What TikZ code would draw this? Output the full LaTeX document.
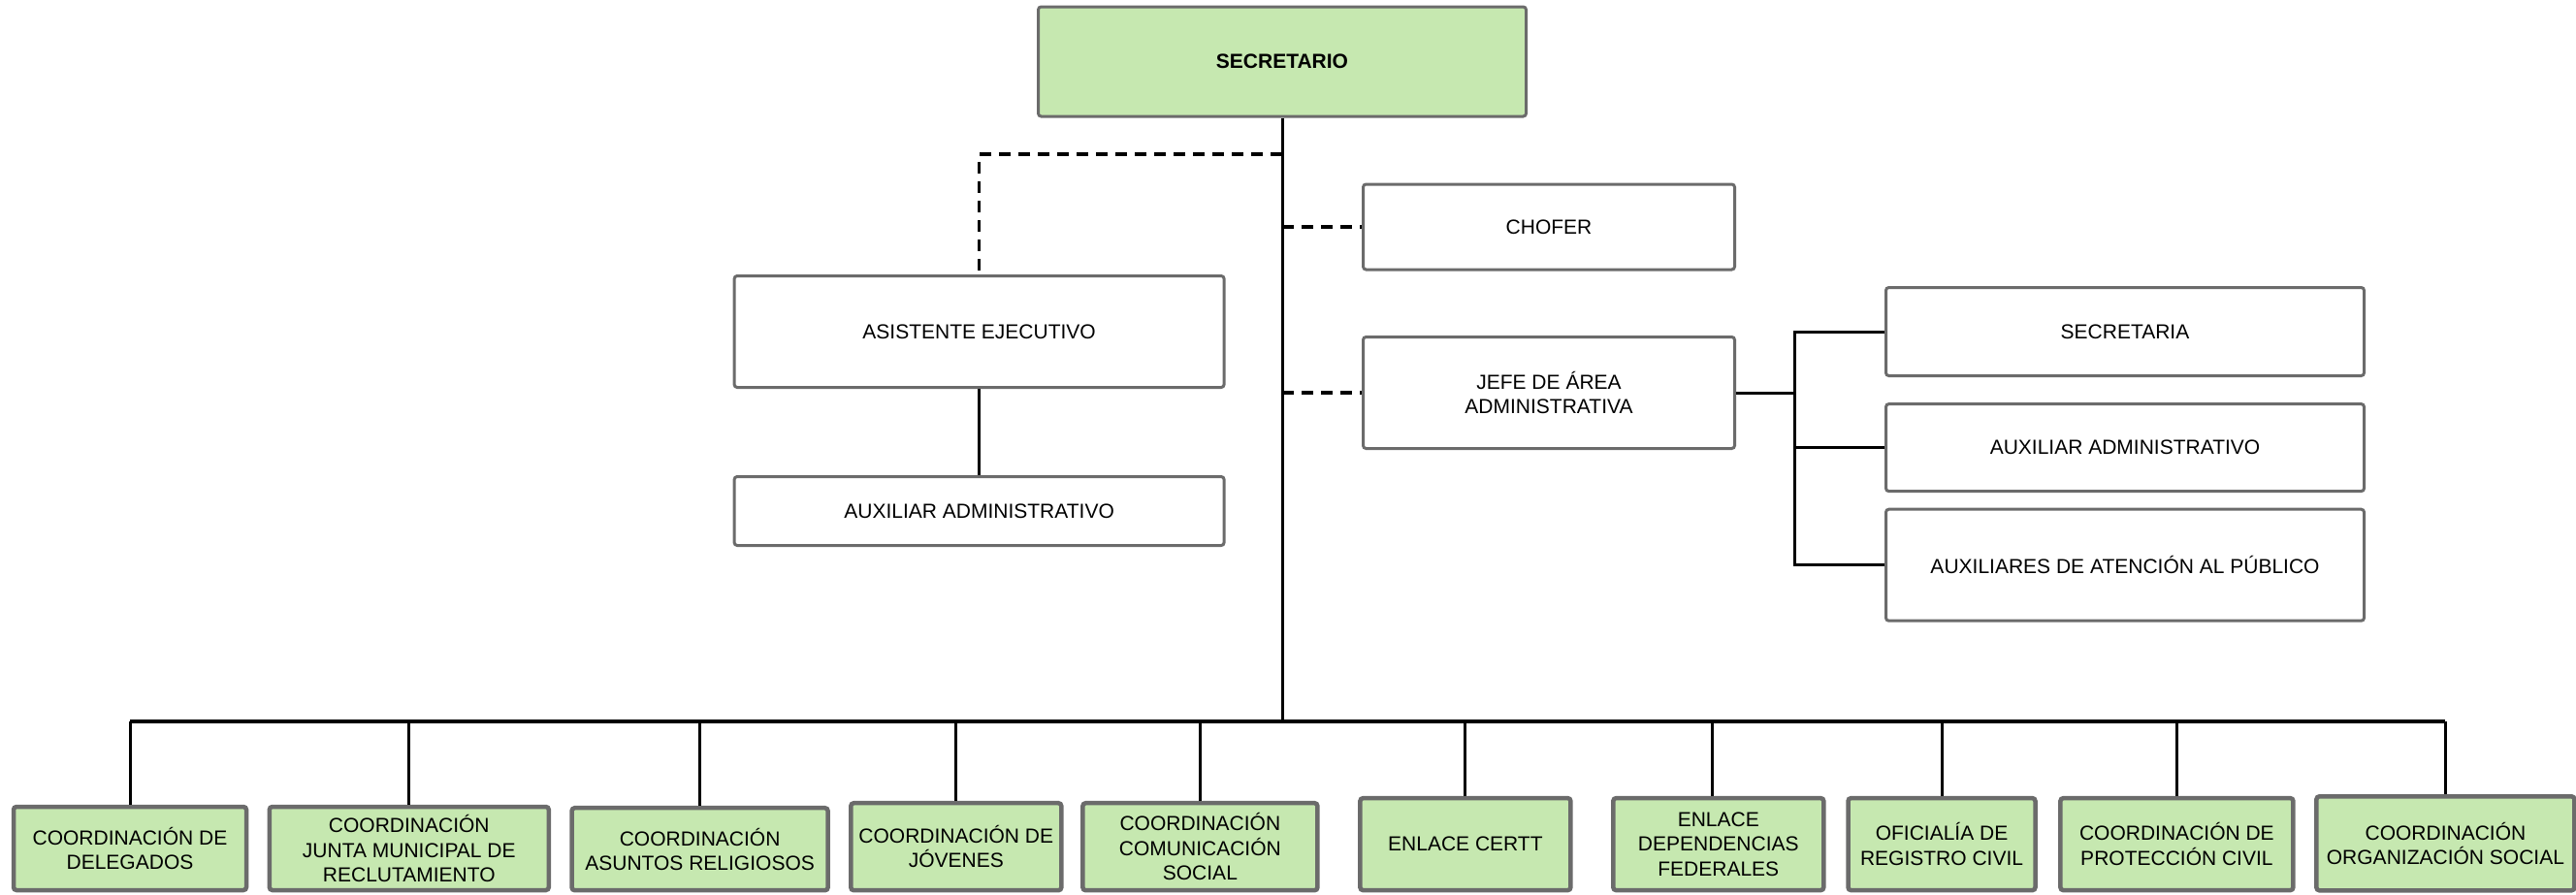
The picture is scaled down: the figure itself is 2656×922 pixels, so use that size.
\documentclass[tikz,border=0pt]{standalone}
\usepackage{fontspec}
\setmainfont{Liberation Sans}
\definecolor{boxgreen}{HTML}{C6E8B0}
\definecolor{boxgray}{HTML}{6B6B6B}
\tikzset{
  topbox/.style={draw=boxgray, line width=3pt, rounded corners=3pt, fill=white, inner sep=0pt, align=center, font=\fontsize{21}{25.4}\selectfont},
  greenbox/.style={topbox, fill=boxgreen},
  botbox/.style={draw=boxgray, line width=4.5pt, rounded corners=3pt, fill=boxgreen, inner sep=0pt, align=center, font=\fontsize{21}{25.4}\selectfont},
  conn/.style={draw=black, line width=3pt},
  busln/.style={draw=black, line width=4pt},
  dashln/.style={draw=black, line width=3.5pt, dash pattern=on 12pt off 8pt}
}
\begin{document}
\begin{tikzpicture}[x=1pt, y=-1pt]
\useasboundingbox (0,0) rectangle (2656,922);
% top level
\node[greenbox, minimum width=503pt, minimum height=113pt] (sec) at (1322,63.5) {\textbf{SECRETARIO}};
\node[topbox, minimum width=505pt, minimum height=115pt] (asis) at (1009.6,342) {ASISTENTE EJECUTIVO};
\node[topbox, minimum width=505pt, minimum height=71pt] (aux1) at (1009.6,527) {AUXILIAR ADMINISTRATIVO};
\node[topbox, minimum width=383pt, minimum height=88pt] (chof) at (1597,234) {CHOFER};
\node[topbox, minimum width=383pt, minimum height=115pt] (jefe) at (1597,405) {JEFE DE ÁREA\\ADMINISTRATIVA};
\node[topbox, minimum width=493pt, minimum height=91pt] (sria) at (2191,342) {SECRETARIA};
\node[topbox, minimum width=493pt, minimum height=90pt] (aux2) at (2191,461.6) {AUXILIAR ADMINISTRATIVO};
\node[topbox, minimum width=493pt, minimum height=115pt] (aap) at (2191,582.7) {AUXILIARES DE ATENCIÓN AL PÚBLICO};
% bottom row
\node[botbox, minimum width=240pt, minimum height=86pt] (b1) at (134,875) {COORDINACIÓN DE\\DELEGADOS};
\node[botbox, minimum width=288pt, minimum height=86pt] (b2) at (421.8,875) {COORDINACIÓN\\JUNTA MUNICIPAL DE\\RECLUTAMIENTO};
\node[botbox, minimum width=264pt, minimum height=85pt] (b3) at (721.6,875.7) {COORDINACIÓN\\ASUNTOS RELIGIOSOS};
\node[botbox, minimum width=217pt, minimum height=90pt] (b4) at (985.8,873.2) {COORDINACIÓN DE\\JÓVENES};
\node[botbox, minimum width=242pt, minimum height=90pt] (b5) at (1237.4,873.2) {COORDINACIÓN\\COMUNICACIÓN\\SOCIAL};
\node[botbox, minimum width=217pt, minimum height=95pt] (b6) at (1510.9,870.6) {ENLACE CERTT};
\node[botbox, minimum width=217pt, minimum height=95pt] (b7) at (1771.8,870.6) {ENLACE\\DEPENDENCIAS\\FEDERALES};
\node[botbox, minimum width=193pt, minimum height=95pt] (b8) at (2002,870.6) {OFICIALÍA DE\\REGISTRO CIVIL};
\node[botbox, minimum width=240pt, minimum height=95pt] (b9) at (2244.4,870.6) {COORDINACIÓN DE\\PROTECCIÓN CIVIL};
\node[botbox, minimum width=266pt, minimum height=97pt] (b10) at (2521.4,869.8) {COORDINACIÓN\\ORGANIZACIÓN SOCIAL};
% helper coordinates
\coordinate (busY) at (0,743.6);
\coordinate (dashY) at (0,159.2);
\coordinate (brk) at (1850,0);
\coordinate (b7top) at (1765,0);
% main trunk and bus
\draw[conn] (sec.south) -- (sec.south |- busY);
\draw[busln] (b1.north |- busY) -- (b10.north |- busY);
\foreach \b in {b1,b2,b3,b4,b5,b6,b8,b9,b10}{
  \draw[conn] (\b.north |- busY) -- (\b.north);
}
\draw[conn] (b7top |- busY) -- (b7top |- b7.north);
% dashed staff links
\draw[dashln] (sec.south |- dashY) -| (asis.north);
\draw[dashln] (sec.south |- chof.west) -- (chof.west);
\draw[dashln] (sec.south |- jefe.west) -- (jefe.west);
% assistant chain
\draw[conn] (asis.south) -- (aux1.north);
% jefe bracket
\draw[conn] (jefe.east) -- (jefe.east -| brk);
\draw[conn] (sria.west) -| (brk |- aap.west) -- (aap.west);
\draw[conn] (aux2.west) -- (aux2.west -| brk);
\end{tikzpicture}
\end{document}
